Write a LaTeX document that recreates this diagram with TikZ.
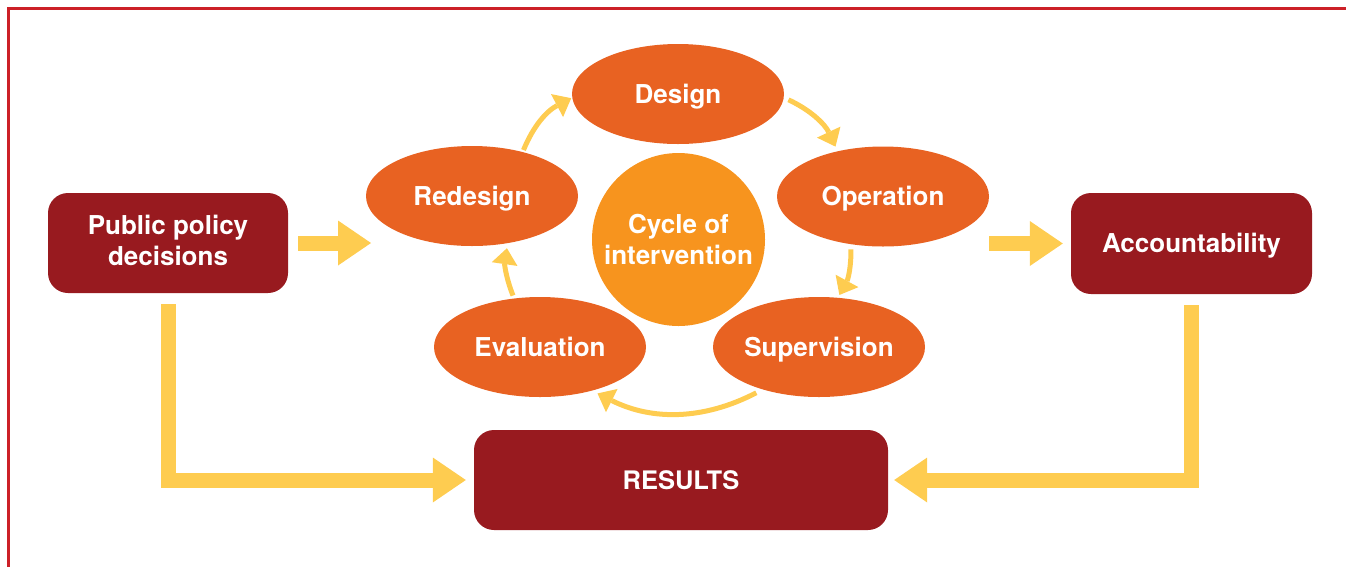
\documentclass[tikz,border=0pt]{standalone}
\usepackage{fontspec}
\setmainfont{TeX Gyre Heros}
\usetikzlibrary{shapes.geometric,arrows.meta}
\definecolor{boxred}{RGB}{152,26,31}
\definecolor{ellorange}{RGB}{232,98,34}
\definecolor{circorange}{RGB}{247,148,30}
\definecolor{arrowyellow}{RGB}{254,204,80}
\definecolor{framered}{RGB}{204,32,40}
\begin{document}
\begin{tikzpicture}[x=1pt,y=-1pt,
  txt/.style={text=white, font=\bfseries\fontsize{26}{31}\selectfont},
  box/.style={txt, fill=boxred, rounded corners=20pt, minimum width=240pt,
    minimum height=100pt, inner sep=0pt, align=center},
  oneline/.style={text height=18.7pt, text depth=0pt},
  stage/.style={txt, oneline, ellipse, fill=ellorange, minimum width=212pt,
    minimum height=100pt, inner sep=0pt},
  hub/.style={txt, circle, fill=circorange, minimum size=173pt, inner sep=0pt,
    align=center, text depth=0pt},
  block/.style={draw=arrowyellow, line width=15pt, line join=miter,
    -{Triangle[length=33pt,width=45pt,line width=0pt]}},
  cyc/.style={draw=arrowyellow, line width=5pt,
    -{Triangle[length=16pt,width=26pt,line width=0pt]}},
]
\useasboundingbox (0,0) rectangle (1346,566);
\draw[framered, line width=2.5pt] (8.5,620) -- (8.5,8.5) -- (1400,8.5);

% boxes
\node[box, text depth=5pt] (public) at (168,243) {Public policy\\decisions};
\node[box, oneline, minimum width=241pt, minimum height=101pt] (account) at (1191.5,243.5) {Accountability};
\node[box, minimum width=414pt, font=\bfseries\fontsize{25.5}{30}\selectfont, text height=18.3pt, text depth=0pt] (results) at (681,480) {RESULTS};

% cycle
\node[stage] (design) at (678,94) {Design};
\node[stage] (redesign) at (472,196) {Redesign};
\node[stage] (operation) at (883,196.5) {Operation};
\node[stage] (evaluation) at (540,347) {Evaluation};
\node[stage] (supervision) at (819,347) {Supervision};
\node[hub] (hub) at (678.5,239.5) {Cycle of\\intervention};

% cycle arrows
\draw[cyc, shorten <=2pt, shorten >=1pt] (redesign.41) to[bend left=20] (design.182);
\draw[cyc, shorten <=5pt, shorten >=5pt] (design.-2) to[bend left=20] (operation.135);
\draw[cyc, shorten <=5pt, shorten >=3pt] (operation.236) to[bend left=15] (supervision.69);
\draw[cyc, shorten <=7pt, shorten >=6pt] (supervision.217) to[bend left=27] (evaluation.320);
\draw[cyc, shorten <=3pt, shorten >=5pt] (evaluation.118) to[bend left=15] (redesign.307);

% block arrows
\coordinate (ltip) at (371,243);
\draw[block, shorten <=10pt] (public.east) -- (ltip);
\draw[block, shorten >=8pt] (operation.east |- account.west) -- (account.west);
\draw[block, shorten <=11pt, shorten >=8pt] (public.south) |- (results.west);
\draw[block, shorten <=11pt, shorten >=6pt] (account.south) |- (results.east);
\end{tikzpicture}
\end{document}
